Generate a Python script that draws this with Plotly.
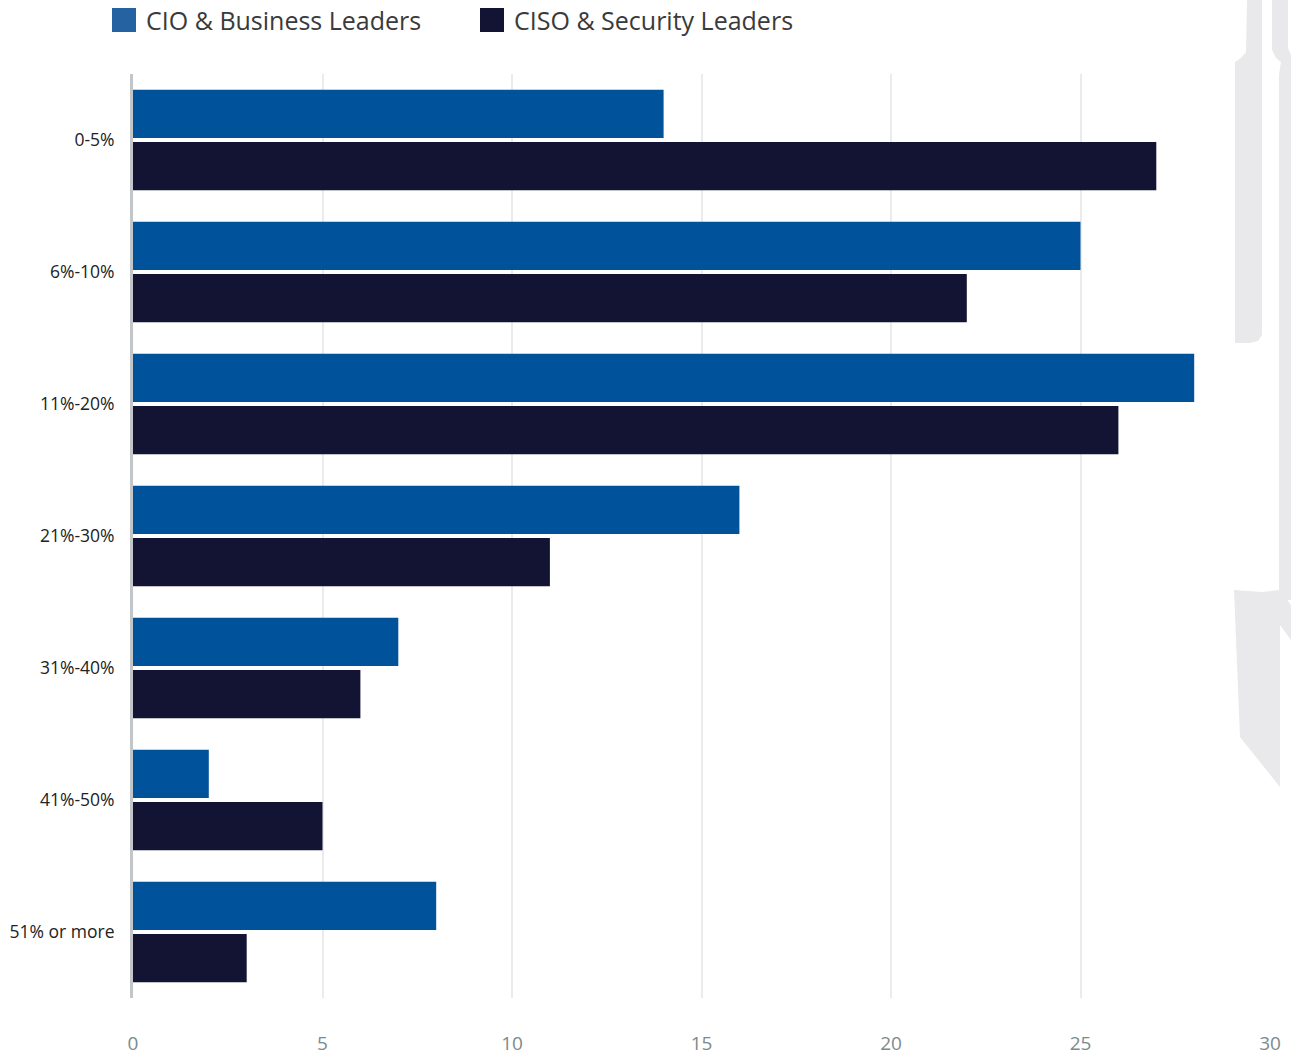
import plotly.graph_objects as go

# Survey data: share of budget ranges, counted by respondent group
categories = ["0-5%", "6%-10%", "11%-20%", "21%-30%", "31%-40%", "41%-50%", "51% or more"]
cio_values = [14, 25, 28, 16, 7, 2, 8]
ciso_values = [27, 22, 26, 11, 6, 5, 3]
series_names = ["CIO & Business Leaders", "CISO & Security Leaders"]
x_ticks = [0, 5, 10, 15, 20, 25, 30]

BAR_CIO = "#00529b"
BAR_CISO = "#131433"
LEG_CIO = "#2462a1"
LEG_CISO = "#131433"
FONT = "Open Sans"

W, H = 1291, 1055
L, R, T, B = 133, 21, 74, 57
PW, PH = W - L - R, H - T - B


def px(x):
    return (x - L) / PW


def py(y):
    return (H - B - y) / PH


fig = go.Figure()
fig.add_trace(go.Bar(y=categories, x=cio_values, orientation="h", name=series_names[0],
                     marker=dict(color=BAR_CIO, line=dict(width=0)), showlegend=False))
fig.add_trace(go.Bar(y=categories, x=ciso_values, orientation="h", name=series_names[1],
                     marker=dict(color=BAR_CISO, line=dict(width=0)), showlegend=False))

shapes = []
annotations = []

# Faint background ornament along the right edge
ornament = "#e9e9eb"
def path(points):
    return "M " + " L ".join(f"{px(a):.5f},{py(b):.5f}" for a, b in points) + " Z"

shapes.append(dict(type="path", xref="paper", yref="paper", layer="below", line=dict(width=0),
                   fillcolor=ornament,
                   path=path([(1247, 0), (1262, 0), (1262, 335), (1258, 341), (1250, 343),
                              (1235, 343), (1235, 62), (1241, 58), (1246, 52)])))
shapes.append(dict(type="path", xref="paper", yref="paper", layer="below", line=dict(width=0),
                   fillcolor=ornament,
                   path=path([(1272, 0), (1288, 0), (1288, 48), (1291, 55), (1291, 600),
                              (1279, 600), (1279, 75), (1281, 62), (1276, 58), (1272, 50)])))
shapes.append(dict(type="path", xref="paper", yref="paper", layer="below", line=dict(width=0),
                   fillcolor=ornament,
                   path=path([(1234, 590), (1262, 592), (1280, 590), (1291, 605), (1291, 640),
                              (1280, 625), (1280, 787), (1240, 737)])))

# Legend drawn as squares with labels above the plot
legend_items = [(112, LEG_CIO, series_names[0]), (480, LEG_CISO, series_names[1])]
for x0, col, name in legend_items:
    shapes.append(dict(type="rect", xref="paper", yref="paper", line=dict(width=0), fillcolor=col,
                       x0=px(x0), x1=px(x0 + 24), y0=py(32), y1=py(8)))
    annotations.append(dict(xref="paper", yref="paper", x=px(x0 + 32), y=py(20), xanchor="left",
                            yanchor="middle", showarrow=False, text=name,
                            font=dict(family=FONT, size=25, color="#3a3a3a")))

fig.update_layout(
    width=W, height=H,
    margin=dict(l=L, r=R, t=T, b=B, pad=0),
    paper_bgcolor="white", plot_bgcolor="rgba(0,0,0,0)",
    barmode="group", bargap=0.21, bargroupgap=0.075,
    font=dict(family=FONT),
    shapes=shapes, annotations=annotations,
    xaxis=dict(range=[0, 30], tickvals=x_ticks, showgrid=True, gridcolor="#ebebeb", gridwidth=2,
               zeroline=False, showline=False, ticks="", ticklabelstandoff=32, automargin=False,
               tickfont=dict(family=FONT, size=19, color="#7d8a8c")),
    yaxis=dict(categoryorder="array", categoryarray=categories, autorange="reversed",
               showgrid=False, zeroline=False, showline=True, linecolor="#c3c6c9", linewidth=3,
               ticks="", ticklabelstandoff=12, automargin=False,
               tickfont=dict(family=FONT, size=17.5, color="#222222")),
)

fig.write_html("out.html")
